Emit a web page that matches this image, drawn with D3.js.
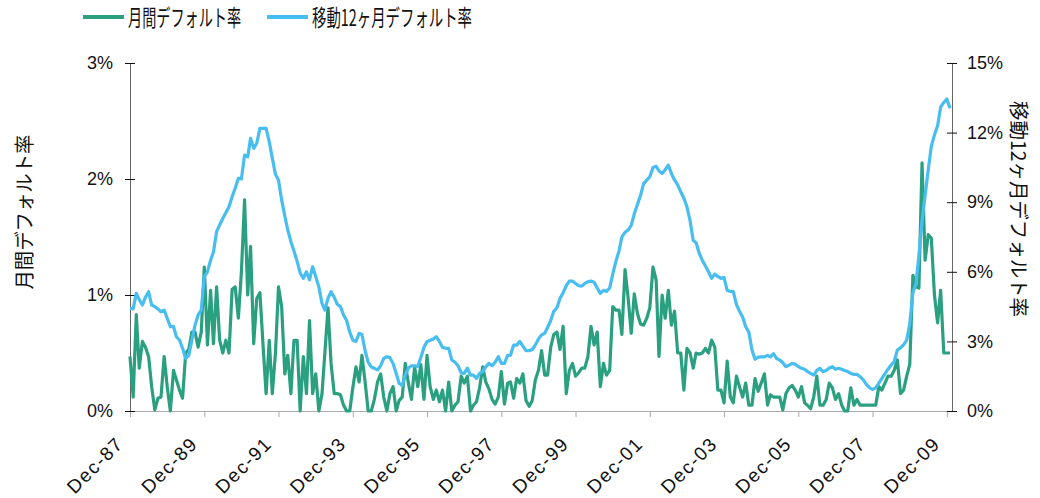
<!DOCTYPE html>
<html lang="ja">
<head>
<meta charset="utf-8">
<script src="https://d3js.org/d3.v7.min.js"></script>
<style>
body { margin: 0; background: #fff; }
svg text { fill: #111; }
.tick text { font-family: "Liberation Sans Narrow", "Liberation Sans", Arial, sans-serif; font-size: 18px; }
.jp { font-family: "Noto Sans CJK JP", sans-serif; font-size: 20px; }
</style>
</head>
<body>
<script>
// monthly series, Dec-87 .. Jan-10 (percent)
var monthly = [
  0.47, 0.12, 0.83, 0.37, 0.60, 0.55, 0.47, 0.21, 0.01, 0.11,
  0.12, 0.47, 0.21, 0.00, 0.35, 0.27, 0.18, 0.11, 0.50, 0.53,
  0.68, 0.68, 0.55, 0.68, 1.24, 0.57, 1.04, 0.58, 1.07, 0.61,
  0.50, 0.61, 0.50, 1.05, 1.07, 0.80, 1.20, 1.82, 1.00, 1.42,
  0.58, 0.97, 1.02, 0.58, 0.15, 0.61, 0.15, 0.50, 1.07, 0.90,
  0.32, 0.48, 0.15, 0.61, 0.61, 0.00, 0.47, 0.15, 0.78, 0.15,
  0.32, 0.00, 0.15, 0.50, 0.89, 0.41, 0.15, 0.15, 0.14, 0.05,
  0.00, 0.00, 0.20, 0.38, 0.25, 0.48, 0.25, 0.00, 0.00, 0.10,
  0.25, 0.32, 0.12, 0.00, 0.15, 0.21, 0.00, 0.09, 0.12, 0.41,
  0.24, 0.10, 0.38, 0.21, 0.40, 0.10, 0.48, 0.21, 0.10, 0.18,
  0.08, 0.18, 0.00, 0.25, 0.00, 0.05, 0.08, 0.30, 0.24, 0.30,
  0.00, 0.05, 0.08, 0.20, 0.38, 0.25, 0.19, 0.10, 0.06, 0.12,
  0.34, 0.06, 0.24, 0.25, 0.11, 0.28, 0.24, 0.32, 0.09, 0.04,
  0.09, 0.27, 0.35, 0.52, 0.31, 0.31, 0.55, 0.66, 0.68, 0.53,
  0.73, 0.15, 0.35, 0.41, 0.30, 0.33, 0.37, 0.37, 0.47, 0.73,
  0.57, 0.68, 0.21, 0.41, 0.31, 0.35, 0.90, 0.87, 0.87, 0.66,
  1.22, 0.98, 0.67, 1.01, 0.84, 0.75, 0.74, 0.80, 0.89, 1.24,
  1.13, 0.47, 1.00, 0.80, 1.04, 0.74, 0.86, 0.50, 0.50, 0.18,
  0.54, 0.50, 0.37, 0.50, 0.49, 0.50, 0.54, 0.50, 0.61, 0.55,
  0.18, 0.18, 0.07, 0.43, 0.12, 0.07, 0.30, 0.21, 0.12, 0.24,
  0.05, 0.05, 0.28, 0.17, 0.24, 0.32, 0.05, 0.14, 0.12, 0.12,
  0.12, 0.01, 0.15, 0.20, 0.22, 0.18, 0.12, 0.21, 0.07, 0.05,
  0.02, 0.12, 0.30, 0.05, 0.05, 0.10, 0.24, 0.20, 0.10, 0.15,
  0.05, 0.00, 0.00, 0.20, 0.05, 0.10, 0.05, 0.05, 0.05, 0.05,
  0.05, 0.05, 0.21, 0.18, 0.24, 0.30, 0.30, 0.35, 0.44, 0.15,
  0.18, 0.30, 0.40, 1.17, 1.07, 1.06, 2.14, 1.30, 1.52, 1.49,
  1.00, 0.76, 1.04, 0.50, 0.50, 0.50
];
var rolling12 = [
  4.43, 4.40, 5.07, 4.80, 4.57, 4.90, 5.14, 4.57, 4.50, 4.40,
  4.28, 4.35, 4.00, 3.63, 3.65, 3.20, 3.06, 2.70, 2.27, 2.40,
  3.06, 3.70, 4.14, 4.35, 5.79, 6.00, 6.50, 6.85, 7.73, 8.02,
  8.30, 8.55, 8.80, 9.24, 9.60, 10.03, 10.00, 11.03, 10.96, 11.75,
  11.32, 11.54, 12.18, 12.18, 12.18, 11.60, 10.90, 10.20, 9.95, 9.10,
  8.40, 7.80, 7.30, 6.90, 6.45, 5.95, 5.72, 6.00, 5.65, 6.22,
  5.80, 5.35, 4.64, 4.35, 4.86, 5.14, 4.90, 4.60, 4.50, 4.14,
  3.90, 3.40, 3.05, 3.00, 3.35, 3.30, 2.60, 2.10, 1.90, 1.84,
  1.77, 1.95, 2.27, 2.34, 2.30, 2.05, 1.62, 1.19, 1.10, 1.55,
  1.85, 1.95, 1.95, 1.92, 2.30, 2.75, 2.99, 3.05, 3.10, 3.20,
  3.00, 2.75, 2.70, 2.70, 2.20, 2.10, 1.95, 1.65, 1.62, 1.85,
  1.55, 1.55, 1.41, 1.62, 1.70, 1.90, 2.05, 1.95, 2.10, 2.34,
  2.05, 2.05, 2.40, 2.40, 2.84, 2.84, 3.00, 2.80, 2.60, 2.60,
  2.65, 2.85, 3.10, 3.28, 3.35, 3.60, 3.90, 4.30, 4.45, 4.85,
  5.10, 5.40, 5.60, 5.60, 5.50, 5.40, 5.38, 5.50, 5.57, 5.60,
  5.55, 5.30, 5.07, 5.20, 5.15, 5.30, 5.90, 6.45, 6.90, 7.50,
  7.70, 7.80, 8.00, 8.50, 8.90, 9.30, 9.80, 9.95, 10.10, 10.50,
  10.55, 10.35, 10.24, 10.40, 10.60, 10.24, 9.96, 9.75, 9.45, 9.17,
  8.80, 8.20, 7.35, 7.25, 6.80, 6.50, 6.25, 6.00, 5.72, 5.90,
  5.80, 5.72, 5.75, 5.20, 5.15, 5.15, 4.60, 4.30, 4.05, 3.63,
  3.40, 2.63, 2.23, 2.32, 2.33, 2.33, 2.40, 2.33, 2.47, 2.26,
  2.20, 2.08, 1.91, 1.98, 2.05, 2.02, 1.91, 1.84, 1.80, 1.70,
  1.62, 1.55, 1.75, 1.84, 1.70, 1.75, 1.85, 1.91, 1.80, 1.84,
  1.80, 1.75, 1.70, 1.62, 1.58, 1.58, 1.48, 1.34, 1.15, 1.00,
  0.93, 1.00, 1.20, 1.40, 1.60, 1.80, 1.98, 2.13, 2.63, 2.72,
  2.85, 3.06, 3.75, 5.10, 5.50, 6.70, 8.20, 9.30, 10.40, 11.40,
  11.90, 12.30, 13.10, 13.30, 13.45, 13.05
];
var tickLabels = ["Dec-87","Dec-89","Dec-91","Dec-93","Dec-95","Dec-97",
                  "Dec-99","Dec-01","Dec-03","Dec-05","Dec-07","Dec-09"];
var leftTicks = [0, 1, 2, 3];
var rightTicks = [0, 3, 6, 9, 12, 15];
var seriesNames = ["月間デフォルト率", "移動12ヶ月デフォルト率"];
var colors = ["#2aa081", "#47bdf0"];

var width = 1040, height = 498;
var start = new Date(1987, 11, 1);
var months = d3.timeMonth.range(start, d3.timeMonth.offset(start, monthly.length));

var svg = d3.select("body").append("svg")
  .attr("width", width)
  .attr("height", height);

var x = d3.scaleTime()
  .domain([start, months[months.length - 1]])
  .range([130, 950]);
var yL = d3.scaleLinear().domain([0, 3]).range([411, 63]);
var yR = d3.scaleLinear().domain([0, 15]).range([411, 63]);

// bottom axis
var xTicks = tickLabels.map(function(d, i) { return new Date(1987 + 2 * i, 11, 1); });
var xAxis = svg.append("g")
  .attr("transform", "translate(0,411)")
  .call(d3.axisBottom(x).tickValues(xTicks).tickSizeOuter(0).tickSizeInner(6).tickFormat(""));
xAxis.select(".domain").attr("stroke", "#aaa").attr("d", "M130,0.5H952");
xAxis.selectAll(".tick line").attr("stroke", "#aaa");
xAxis.selectAll(".tick").append("text")
  .attr("text-anchor", "end")
  .attr("fill", "#111")
  .attr("transform", "translate(-6,34) rotate(-45)")
  .style("font-size", "19px")
  .style("letter-spacing", "1.5px")
  .text(function(d, i) { return tickLabels[i]; });

// left axis
var left = svg.append("g")
  .attr("transform", "translate(130,0)")
  .call(d3.axisLeft(yL).tickValues(leftTicks).tickSizeOuter(0).tickSizeInner(5).tickPadding(12)
    .tickFormat(function(d) { return d + "%"; }));
left.select(".domain").attr("stroke", "#666");
left.selectAll(".tick line").attr("x1", 5).attr("x2", -5).attr("stroke", "#111");

// right axis
var right = svg.append("g")
  .attr("transform", "translate(952,0)")
  .call(d3.axisRight(yR).tickValues(rightTicks).tickSizeOuter(0).tickSizeInner(5).tickPadding(10)
    .tickFormat(function(d) { return d + "%"; }));
right.select(".domain").attr("stroke", "#666");
right.selectAll(".tick line").attr("x1", -5).attr("x2", 5).attr("stroke", "#111");

svg.selectAll(".tick text").attr("fill", "#111");

// lines
var lineL = d3.line()
  .x(function(d, i) { return x(months[i]); })
  .y(function(d) { return yL(d); });
var lineR = d3.line()
  .x(function(d, i) { return x(months[i]); })
  .y(function(d) { return yR(d); });

svg.append("path")
  .datum(monthly)
  .attr("fill", "none")
  .attr("stroke", colors[0])
  .attr("stroke-width", 3.2)
  .attr("stroke-linejoin", "round")
  .attr("d", lineL);

svg.append("path")
  .datum(rolling12)
  .attr("fill", "none")
  .attr("stroke", colors[1])
  .attr("stroke-width", 3.2)
  .attr("stroke-linejoin", "round")
  .attr("d", lineR);

// axis titles
svg.append("text")
  .attr("class", "jp")
  .attr("text-anchor", "middle")
  .attr("dy", "0.35em")
  .attr("transform", "translate(25,212) rotate(-90)")
  .attr("textLength", 155)
  .attr("lengthAdjust", "spacingAndGlyphs")
  .text(seriesNames[0]);

svg.append("text")
  .attr("class", "jp")
  .attr("text-anchor", "middle")
  .attr("dy", "0.35em")
  .attr("transform", "translate(1018,209) rotate(90)")
  .attr("textLength", 216)
  .attr("lengthAdjust", "spacingAndGlyphs")
  .text(seriesNames[1]);

// legend
var legend = [
  { x: 83, w: 113 },
  { x: 267, w: 160 }
];
legend.forEach(function(l, i) {
  svg.append("line")
    .attr("x1", l.x).attr("x2", l.x + 41)
    .attr("y1", 17).attr("y2", 17)
    .attr("stroke", colors[i])
    .attr("stroke-width", 4);
  svg.append("text")
    .attr("class", "jp")
    .attr("x", l.x + 45)
    .attr("y", 18)
    .attr("dy", "0.35em")
    .style("font-size", "23px")
    .attr("textLength", l.w)
    .attr("lengthAdjust", "spacingAndGlyphs")
    .text(seriesNames[i]);
});
</script>
</body>
</html>
